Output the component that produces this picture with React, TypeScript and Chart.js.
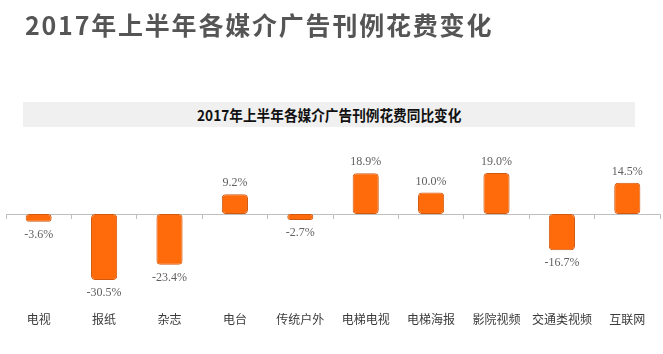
import React, { useEffect, useRef } from "react";
import { Chart, registerables } from "chart.js";

Chart.register(...registerables);

const mainTitle = "2017年上半年各媒介广告刊例花费变化";
const subTitle = "2017年上半年各媒介广告刊例花费同比变化";
const categories = ["电视", "报纸", "杂志", "电台", "传统户外", "电梯电视", "电梯海报", "影院视频", "交通类视频", "互联网"];
const changes = [-3.6, -30.5, -23.4, 9.2, -2.7, 18.9, 10.0, 19.0, -16.7, 14.5];
const yMin = -40;
const yMax = 25;

const CJK = "'Noto Sans CJK SC', 'Noto Sans', sans-serif";
const SERIF = "'Liberation Serif', 'DejaVu Serif', serif";

const valueLabelPlugin = {
  id: "valueLabels",
  afterDatasetsDraw(chart: any) {
    const ctx = chart.ctx;
    const meta = chart.getDatasetMeta(0);
    ctx.save();
    ctx.font = `12px ${SERIF}`;
    ctx.fillStyle = "#5f5f5f";
    ctx.textAlign = "center";
    ctx.textBaseline = "middle";
    meta.data.forEach((el: any, i: number) => {
      const v = changes[i];
      const text = v.toFixed(1) + "%";
      const y = v >= 0 ? el.y - 11 : el.y + 13;
      ctx.fillText(text, el.x, y);
    });
    ctx.restore();
  },
};

export default function App() {
  const canvasRef = useRef<HTMLCanvasElement | null>(null);

  useEffect(() => {
    if (!canvasRef.current) return;
    const chart = new Chart(canvasRef.current, {
      type: "bar",
      data: {
        labels: categories,
        datasets: [
          {
            data: changes,
            backgroundColor: "#FF6A0A",
            borderColor: "#D0590F",
            borderWidth: 1,
            borderRadius: 4,
            borderSkipped: false,
            barPercentage: 0.4,
            categoryPercentage: 1,
          },
        ],
      },
      options: {
        responsive: false,
        animation: false,
        devicePixelRatio: 1,
        layout: { padding: { left: 6, right: 3, top: 160, bottom: 15 } },
        plugins: {
          legend: { display: false },
          tooltip: { enabled: false },
          title: { display: false },
        },
        scales: {
          x: {
            offset: true,
            grid: { display: false, drawTicks: false },
            border: { display: false },
            ticks: {
              color: "#3a3a3a",
              font: { family: CJK, size: 12 },
              padding: 12,
              maxRotation: 0,
              autoSkip: false,
            },
          },
          x2: {
            type: "category",
            position: { y: 0 },
            offset: true,
            grid: { drawOnChartArea: false, drawTicks: true, tickLength: 4, color: "#bfbfbf" },
            border: { display: true, color: "#bfbfbf", width: 1 },
            ticks: { display: false },
          },
          y: { display: false, min: yMin, max: yMax },
        },
      } as any,
      plugins: [valueLabelPlugin],
    });
    return () => chart.destroy();
  }, []);

  return (
    <div style={{ position: "absolute", left: 0, top: 0, width: 663, height: 354, background: "#ffffff", overflow: "hidden" }}>
      <canvas ref={canvasRef} width={663} height={354} style={{ position: "absolute", left: 0, top: 0, width: 663, height: 354 }} />
      <div
        style={{
          position: "absolute",
          left: 25,
          top: 12,
          fontFamily: CJK,
          fontWeight: 700,
          fontSize: 25,
          lineHeight: "25px",
          letterSpacing: "1.8px",
          color: "#555555",
          whiteSpace: "nowrap",
        }}
      >
        {mainTitle}
      </div>
      <div
        style={{
          position: "absolute",
          left: 23,
          top: 102,
          width: 612,
          height: 25,
          background: "#f0f0f0",
          fontFamily: CJK,
          fontWeight: 700,
          fontSize: 15,
          lineHeight: "25px",
          textAlign: "center",
          color: "#111111",
          whiteSpace: "nowrap",
        }}
      >
        <span style={{ display: "inline-block", transform: "scaleX(0.91)", transformOrigin: "center" }}>{subTitle}</span>
      </div>
    </div>
  );
}
